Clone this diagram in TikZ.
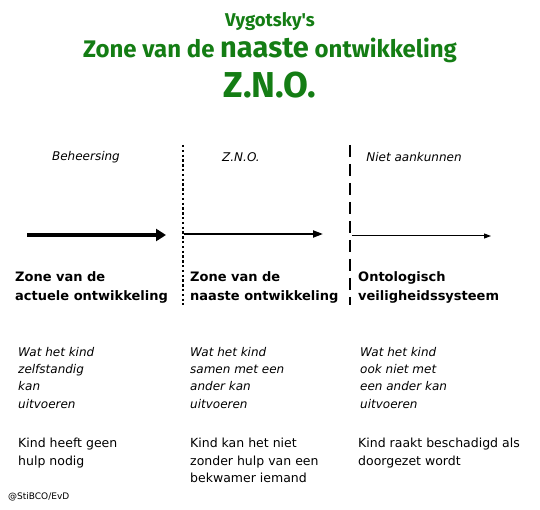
\documentclass[tikz,border=0pt]{standalone}
\usepackage{fontspec}
\setmainfont{DejaVu Sans}
\newfontfamily\titlefont{Fira Sans}
\newfontfamily\heavyfont{DejaVu Sans}
\usetikzlibrary{arrows.meta}
\definecolor{titlegreen}{RGB}{20,125,20}
\tikzset{x=1pt, y=-1pt,
title/.style={text=titlegreen, font=\titlefont\bfseries, inner sep=0pt},
header/.style={font=\fontsize{12}{14}\selectfont\itshape, inner sep=0pt},
zonelabel/.style={anchor=north west, align=left, inner sep=0pt,
  font=\heavyfont\bfseries\fontsize{13}{19}\selectfont},
taskline/.style={anchor=north west, align=left, inner sep=0pt,
  font=\fontsize{12}{17.3}\selectfont\itshape},
helpline/.style={anchor=north west, align=left, inner sep=0pt,
  font=\fontsize{12.5}{17.3}\selectfont},
border/.style={line width=2.4pt},
growth/.style={-{Triangle[length=9pt,width=7pt]}}
}
\begin{document}
\begin{tikzpicture}
\useasboundingbox (0,0) rectangle (540,510);
% title
\node[title, font=\titlefont\bfseries\fontsize{18.5}{21}\selectfont] (vyg) at (270,22) {Vygotsky's};
\node[title, font=\titlefont\bfseries\fontsize{24}{28}\selectfont] (zno) at (270,50)
  {Zone van de {\fontsize{29}{32}\selectfont naaste} ontwikkeling};
\node[title, font=\titlefont\bfseries\fontsize{36}{40}\selectfont] (abbr) at (270,85) {Z.N.O.};
% headers
\node[header] (beh) at (86,157) {Beheersing};
\node[header] (mid) at (241,157) {Z.N.O.};
\node[header] (niet) at (414,157) {Niet aankunnen};
% borders between zones
\coordinate (d1) at (183,145);
\coordinate (d2) at (183,305);
\coordinate (e1) at (350,145);
\coordinate (e2) at (350,305);
\draw[border, dash pattern=on 2.4pt off 2.4pt] (d1) -- (d2);
\draw[border, dash pattern=on 12pt off 7pt] (e1) -- (e2);
% arrows
\coordinate (a1) at (27,235);
\coordinate (a2) at (166,235);
\coordinate (b1) at (184,234);
\coordinate (b2) at (323,234);
\coordinate (c1) at (352,236);
\coordinate (c2) at (491,236);
\draw[growth, line width=4pt, -{Triangle[length=10pt,width=12pt]}] (a1) -- (a2);
\draw[growth, line width=2pt, -{Triangle[length=10pt,width=7pt]}] (b1) -- (b2);
\draw[growth, line width=1pt, -{Triangle[length=7pt,width=5pt]}] (c1) -- (c2);
% zone names
\node[zonelabel] (zA) at (15,271) {Zone van de\\actuele ontwikkeling};
\node[zonelabel] (zB) at (190,271) {Zone van de\\naaste ontwikkeling};
\node[zonelabel] (zC) at (358,271) {Ontologisch\\veiligheidssysteem};
% tasks
\node[taskline] (tA) at (18,347) {Wat het kind\\zelfstandig\\kan\\uitvoeren};
\node[taskline] (tB) at (190,347) {Wat het kind\\samen met een\\ander kan\\uitvoeren};
\node[taskline] (tC) at (360,347) {Wat het kind\\ook niet met\\een ander kan\\uitvoeren};
% help
\node[helpline] (hA) at (18,438) {Kind heeft geen\\hulp nodig};
\node[helpline] (hB) at (190,438) {Kind kan het niet\\zonder hulp van een\\bekwamer iemand};
\node[helpline] (hC) at (358,438) {Kind raakt beschadigd als\\doorgezet wordt};
\node[anchor=west, inner sep=0pt, font=\fontsize{9}{10}\selectfont] (copy) at (8,497) {@StiBCO/EvD};
\end{tikzpicture}
\end{document}
